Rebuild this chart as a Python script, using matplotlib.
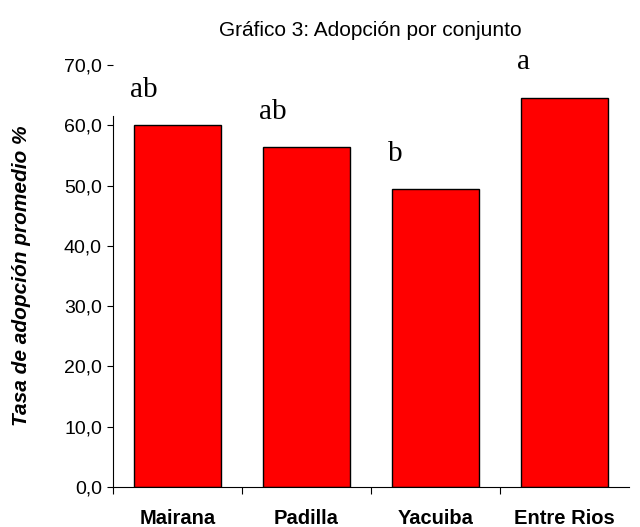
import matplotlib
matplotlib.use("Agg")
import matplotlib.pyplot as plt
from matplotlib.ticker import FuncFormatter, FixedLocator

# data
conjuntos = ["Mairana", "Padilla", "Yacuiba", "Entre Rios"]
tasa = [60.0, 56.4, 49.4, 64.6]
letras = ["ab", "ab", "b", "a"]
yticks = [0, 10, 20, 30, 40, 50, 60, 70]

plt.rcParams['font.family'] = ['Liberation Sans', 'DejaVu Sans']

fig = plt.figure(figsize=(6.4, 5.27), dpi=100)
ax = fig.add_axes([0.1766, 0.0759, 0.8064, 0.8008])

x = range(len(conjuntos))
ax.bar(x, tasa, width=0.67, color="#ff0000", edgecolor="black", linewidth=1.0)

for i, (v, l) in enumerate(zip(tasa, letras)):
    ax.text(i - 0.37, v + 4.7, l, family="Liberation Serif", fontsize=21,
            ha="left", va="baseline")

ax.set_xlim(-0.5, 3.5)
ax.set_ylim(0, 70)
ax.set_yticks(yticks)
ax.yaxis.set_major_formatter(FuncFormatter(lambda v, p: f"{v:.1f}".replace(".", ",")))
ax.tick_params(axis="y", labelsize=14, length=4, width=0.8, pad=4)

# category ticks between bars, labels centred on bars
ax.xaxis.set_major_locator(FixedLocator([-0.5, 0.5, 1.5, 2.5]))
ax.xaxis.set_ticklabels([])
ax.xaxis.set_minor_locator(FixedLocator(list(x)))
ax.xaxis.set_minor_formatter(FuncFormatter(lambda v, p: conjuntos[int(round(v))]))
ax.tick_params(axis="x", which="major", length=5, width=0.8, direction="out")
ax.tick_params(axis="x", which="minor", length=0, pad=16, labelsize=14.5)
for t in ax.xaxis.get_minorticklabels():
    t.set_fontweight("bold")

ax.spines["top"].set_visible(False)
ax.spines["right"].set_visible(False)
ax.spines["left"].set_bounds(0, 61.5)
ax.spines["left"].set_linewidth(0.8)
ax.spines["bottom"].set_linewidth(0.8)

ax.set_ylabel("Tasa de adopción promedio %", fontsize=15, fontweight="bold",
              style="italic", labelpad=24)
fig.text(0.578, 0.943, "Gráfico 3: Adopción por conjunto", fontsize=15, ha="center", va="center")

fig.savefig("out.png", dpi=100)
